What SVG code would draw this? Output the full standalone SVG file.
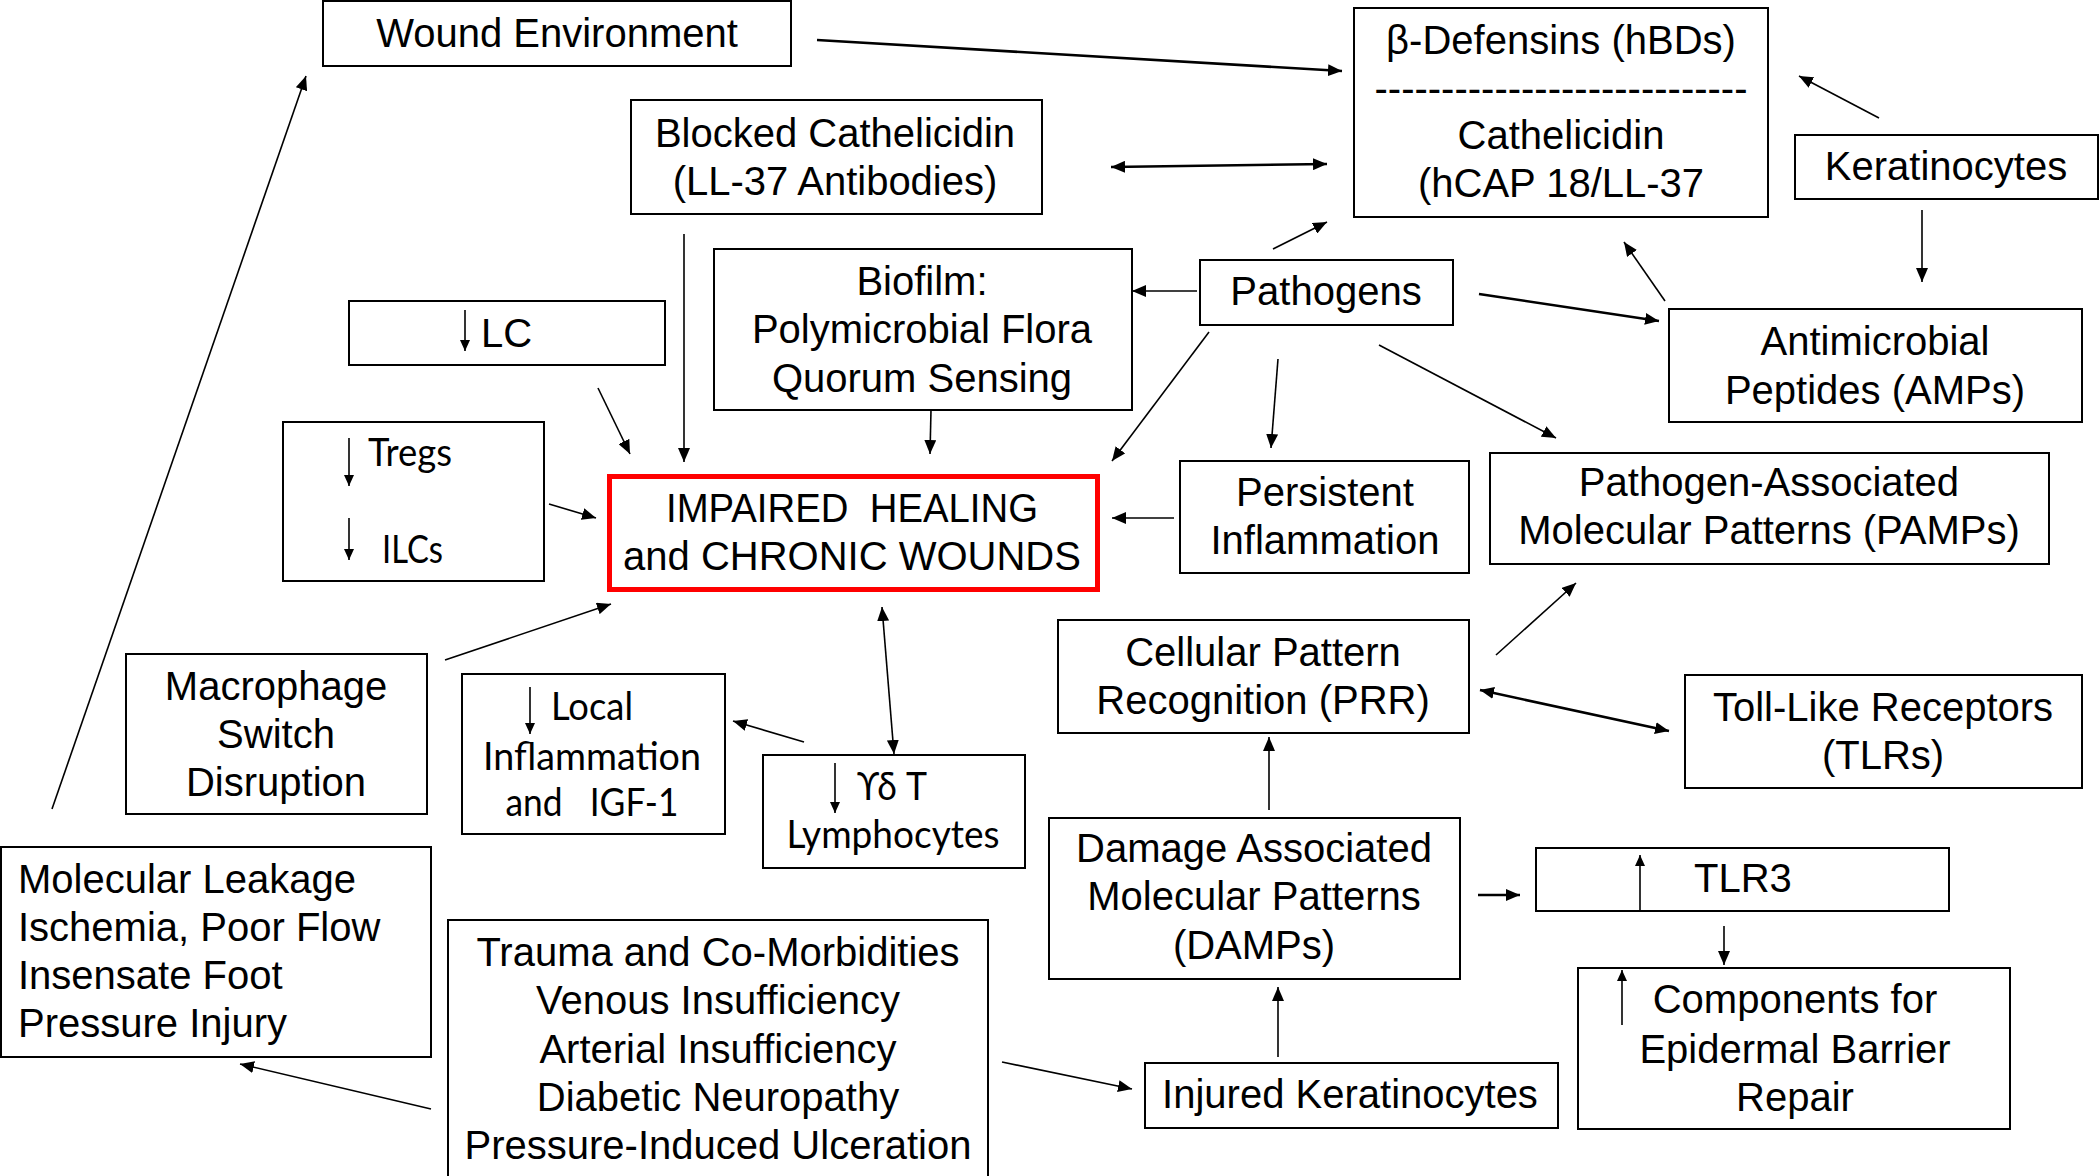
<svg xmlns="http://www.w3.org/2000/svg" width="2100" height="1176" viewBox="0 0 2100 1176">
<style>
.b{fill:#fff;stroke:#000;stroke-width:2}
.t{font-family:"Liberation Sans",Arial,sans-serif;font-size:40px;fill:#000}
.c{font-family:Lato,"Open Sans",sans-serif;font-size:39px;fill:#000}
.m{text-anchor:middle}
.l{fill:none;stroke:#000;stroke-width:1.6}
.k{stroke-width:2.6}
.ia{fill:none;stroke:#000;stroke-width:1.6}
</style>
<defs>
<marker id="ah" markerUnits="userSpaceOnUse" markerWidth="14" markerHeight="12" refX="14" refY="6" orient="auto-start-reverse" viewBox="0 0 14 12"><path d="M0,0 L14,6 L0,12 z" fill="#000"/></marker>
<marker id="sa" markerUnits="userSpaceOnUse" markerWidth="11" markerHeight="10" refX="11" refY="5" orient="auto" viewBox="0 0 11 10"><path d="M0,0 L11,5 L0,10 z" fill="#000"/></marker>
</defs>
<rect width="2100" height="1176" fill="#fff"/>

<g id="connectors">
<line class="l k" x1="817" y1="40" x2="1342" y2="71" marker-end="url(#ah)"/>
<line class="l k" x1="1111" y1="167" x2="1327" y2="164" marker-start="url(#ah)" marker-end="url(#ah)"/>
<line class="l" x1="1879" y1="118" x2="1799" y2="76" marker-end="url(#ah)"/>
<line class="l" x1="1922" y1="210" x2="1922" y2="282" marker-end="url(#ah)"/>
<line class="l" x1="1665" y1="301" x2="1624" y2="242" marker-end="url(#ah)"/>
<line class="l" x1="1273" y1="249" x2="1327" y2="222" marker-end="url(#ah)"/>
<line class="l" x1="1197" y1="291" x2="1132" y2="291" marker-end="url(#ah)"/>
<line class="l k" x1="1479" y1="294" x2="1659" y2="321" marker-end="url(#ah)"/>
<line class="l" x1="1209" y1="332" x2="1112" y2="461" marker-end="url(#ah)"/>
<line class="l" x1="1278" y1="359" x2="1271" y2="448" marker-end="url(#ah)"/>
<line class="l" x1="1379" y1="345" x2="1556" y2="438" marker-end="url(#ah)"/>
<line class="l" x1="684" y1="234" x2="684" y2="462" marker-end="url(#ah)"/>
<line class="l" x1="931" y1="410" x2="930" y2="454" marker-end="url(#ah)"/>
<line class="l" x1="598" y1="388" x2="630" y2="454" marker-end="url(#ah)"/>
<line class="l" x1="549" y1="504" x2="596" y2="518" marker-end="url(#ah)"/>
<line class="l" x1="445" y1="660" x2="611" y2="604" marker-end="url(#ah)"/>
<line class="l" x1="882" y1="607" x2="894" y2="754" marker-start="url(#ah)" marker-end="url(#ah)"/>
<line class="l" x1="804" y1="742" x2="733" y2="721" marker-end="url(#ah)"/>
<line class="l" x1="1174" y1="518" x2="1112" y2="518" marker-end="url(#ah)"/>
<line class="l" x1="1496" y1="655" x2="1576" y2="583" marker-end="url(#ah)"/>
<line class="l k" x1="1480" y1="690" x2="1669" y2="731" marker-start="url(#ah)" marker-end="url(#ah)"/>
<line class="l" x1="1269" y1="810" x2="1269" y2="737" marker-end="url(#ah)"/>
<line class="l k" x1="1478" y1="895" x2="1520" y2="895" marker-end="url(#ah)"/>
<line class="l" x1="1724" y1="926" x2="1724" y2="965" marker-end="url(#ah)"/>
<line class="l" x1="1278" y1="1057" x2="1278" y2="987" marker-end="url(#ah)"/>
<line class="l" x1="1002" y1="1062" x2="1132" y2="1089" marker-end="url(#ah)"/>
<line class="l" x1="431" y1="1109" x2="240" y2="1064" marker-end="url(#ah)"/>
<line class="l" x1="52" y1="809" x2="306" y2="76" marker-end="url(#ah)"/>
</g>

<g id="wound-environment">
<rect class="b" x="323" y="1" width="468" height="65"/>
<text class="t m" x="557" y="47">Wound Environment</text>
</g>

<g id="defensins">
<rect class="b" x="1354" y="8" width="414" height="209"/>
<text class="t m" x="1561" y="54">β-Defensins (hBDs)</text>
<text class="t m" x="1561" y="102">----------------------------</text>
<text class="t m" x="1561" y="149">Cathelicidin</text>
<text class="t m" x="1561" y="197">(hCAP 18/LL-37</text>
</g>

<g id="keratinocytes">
<rect class="b" x="1795" y="135" width="303" height="64"/>
<text class="t m" x="1946" y="180">Keratinocytes</text>
</g>

<g id="blocked-cathelicidin">
<rect class="b" x="631" y="100" width="411" height="114"/>
<text class="t m" x="835" y="147">Blocked Cathelicidin</text>
<text class="t m" x="835" y="195">(LL-37 Antibodies)</text>
</g>

<g id="pathogens">
<rect class="b" x="1200" y="260" width="253" height="65"/>
<text class="t m" x="1326" y="305">Pathogens</text>
</g>

<g id="biofilm">
<rect class="b" x="714" y="249" width="418" height="161"/>
<text class="t m" x="922" y="295">Biofilm:</text>
<text class="t m" x="922" y="343">Polymicrobial Flora</text>
<text class="t m" x="922" y="392">Quorum Sensing</text>
</g>

<g id="amps">
<rect class="b" x="1669" y="309" width="413" height="113"/>
<text class="t m" x="1875" y="355">Antimicrobial</text>
<text class="t m" x="1875" y="404">Peptides (AMPs)</text>
</g>

<g id="lc">
<rect class="b" x="349" y="301" width="316" height="64"/>
<line class="ia" x1="465" y1="310" x2="465" y2="351" marker-end="url(#sa)"/>
<text class="t" x="481" y="347">LC</text>
</g>

<g id="tregs-ilcs">
<rect class="b" x="283" y="422" width="261" height="159"/>
<line class="ia" x1="349" y1="438" x2="349" y2="486" marker-end="url(#sa)"/>
<text class="c" x="368" y="466" textLength="84" lengthAdjust="spacingAndGlyphs">Tregs</text>
<line class="ia" x1="349" y1="518" x2="349" y2="560" marker-end="url(#sa)"/>
<text class="c" x="382" y="563" textLength="61" lengthAdjust="spacingAndGlyphs">ILCs</text>
</g>

<g id="impaired-healing">
<rect x="609.5" y="476.5" width="488" height="113" fill="#fff" stroke="#f00" stroke-width="5"/>
<text class="t m" x="852" y="522" style="white-space:pre" textLength="372" lengthAdjust="spacingAndGlyphs">IMPAIRED  HEALING</text>
<text class="t m" x="852" y="570">and CHRONIC WOUNDS</text>
</g>

<g id="persistent-inflammation">
<rect class="b" x="1180" y="461" width="289" height="112"/>
<text class="t m" x="1325" y="506">Persistent</text>
<text class="t m" x="1325" y="554">Inflammation</text>
</g>

<g id="pamps">
<rect class="b" x="1490" y="453" width="559" height="111"/>
<text class="t m" x="1769" y="496">Pathogen-Associated</text>
<text class="t m" x="1769" y="544">Molecular Patterns (PAMPs)</text>
</g>

<g id="prr">
<rect class="b" x="1058" y="620" width="411" height="113"/>
<text class="t m" x="1263" y="666">Cellular Pattern</text>
<text class="t m" x="1263" y="714">Recognition (PRR)</text>
</g>

<g id="tlrs">
<rect class="b" x="1685" y="675" width="397" height="113"/>
<text class="t m" x="1883" y="721">Toll-Like Receptors</text>
<text class="t m" x="1883" y="769">(TLRs)</text>
</g>

<g id="macrophage">
<rect class="b" x="126" y="654" width="301" height="160"/>
<text class="t m" x="276" y="700">Macrophage</text>
<text class="t m" x="276" y="748">Switch</text>
<text class="t m" x="276" y="796">Disruption</text>
</g>

<g id="local-inflammation">
<rect class="b" x="462" y="674" width="263" height="160"/>
<line class="ia" x1="530" y1="687" x2="530" y2="734" marker-end="url(#sa)"/>
<text class="c" x="551" y="720" textLength="82" lengthAdjust="spacingAndGlyphs">Local</text>
<text class="c m" x="592" y="770" textLength="218" lengthAdjust="spacingAndGlyphs">Inflammation</text>
<text class="c m" x="592" y="816" style="white-space:pre" textLength="173" lengthAdjust="spacingAndGlyphs">and   IGF-1</text>
</g>

<g id="gd-t-lymphocytes">
<rect class="b" x="763" y="755" width="262" height="113"/>
<line class="ia" x1="835" y1="763" x2="835" y2="813" marker-end="url(#sa)"/>
<text class="c" x="857" y="800" textLength="70" lengthAdjust="spacingAndGlyphs">ϒδ T</text>
<text class="c m" x="893" y="848" textLength="213" lengthAdjust="spacingAndGlyphs">Lymphocytes</text>
</g>

<g id="molecular-leakage">
<rect class="b" x="1" y="847" width="430" height="210"/>
<text class="t" x="18" y="893">Molecular Leakage</text>
<text class="t" x="18" y="941">Ischemia, Poor Flow</text>
<text class="t" x="18" y="989">Insensate Foot</text>
<text class="t" x="18" y="1037">Pressure Injury</text>
</g>

<g id="trauma">
<rect class="b" x="448" y="920" width="540" height="280"/>
<text class="t m" x="718" y="966">Trauma and Co-Morbidities</text>
<text class="t m" x="718" y="1014">Venous Insufficiency</text>
<text class="t m" x="718" y="1063">Arterial Insufficiency</text>
<text class="t m" x="718" y="1111">Diabetic Neuropathy</text>
<text class="t m" x="718" y="1159">Pressure-Induced Ulceration</text>
</g>

<g id="injured-keratinocytes">
<rect class="b" x="1145" y="1063" width="413" height="65"/>
<text class="t m" x="1350" y="1108">Injured Keratinocytes</text>
</g>

<g id="damps">
<rect class="b" x="1049" y="818" width="411" height="161"/>
<text class="t m" x="1254" y="862">Damage Associated</text>
<text class="t m" x="1254" y="910">Molecular Patterns</text>
<text class="t m" x="1254" y="959">(DAMPs)</text>
</g>

<g id="tlr3">
<rect class="b" x="1536" y="848" width="413" height="63"/>
<line class="ia" x1="1640" y1="910" x2="1640" y2="855" marker-end="url(#sa)"/>
<text class="t" x="1694" y="892">TLR3</text>
</g>

<g id="components">
<rect class="b" x="1578" y="968" width="432" height="161"/>
<line class="ia" x1="1622" y1="1025" x2="1622" y2="970" marker-end="url(#sa)"/>
<text class="t m" x="1795" y="1013">Components for</text>
<text class="t m" x="1795" y="1063">Epidermal Barrier</text>
<text class="t m" x="1795" y="1111">Repair</text>
</g>
</svg>
